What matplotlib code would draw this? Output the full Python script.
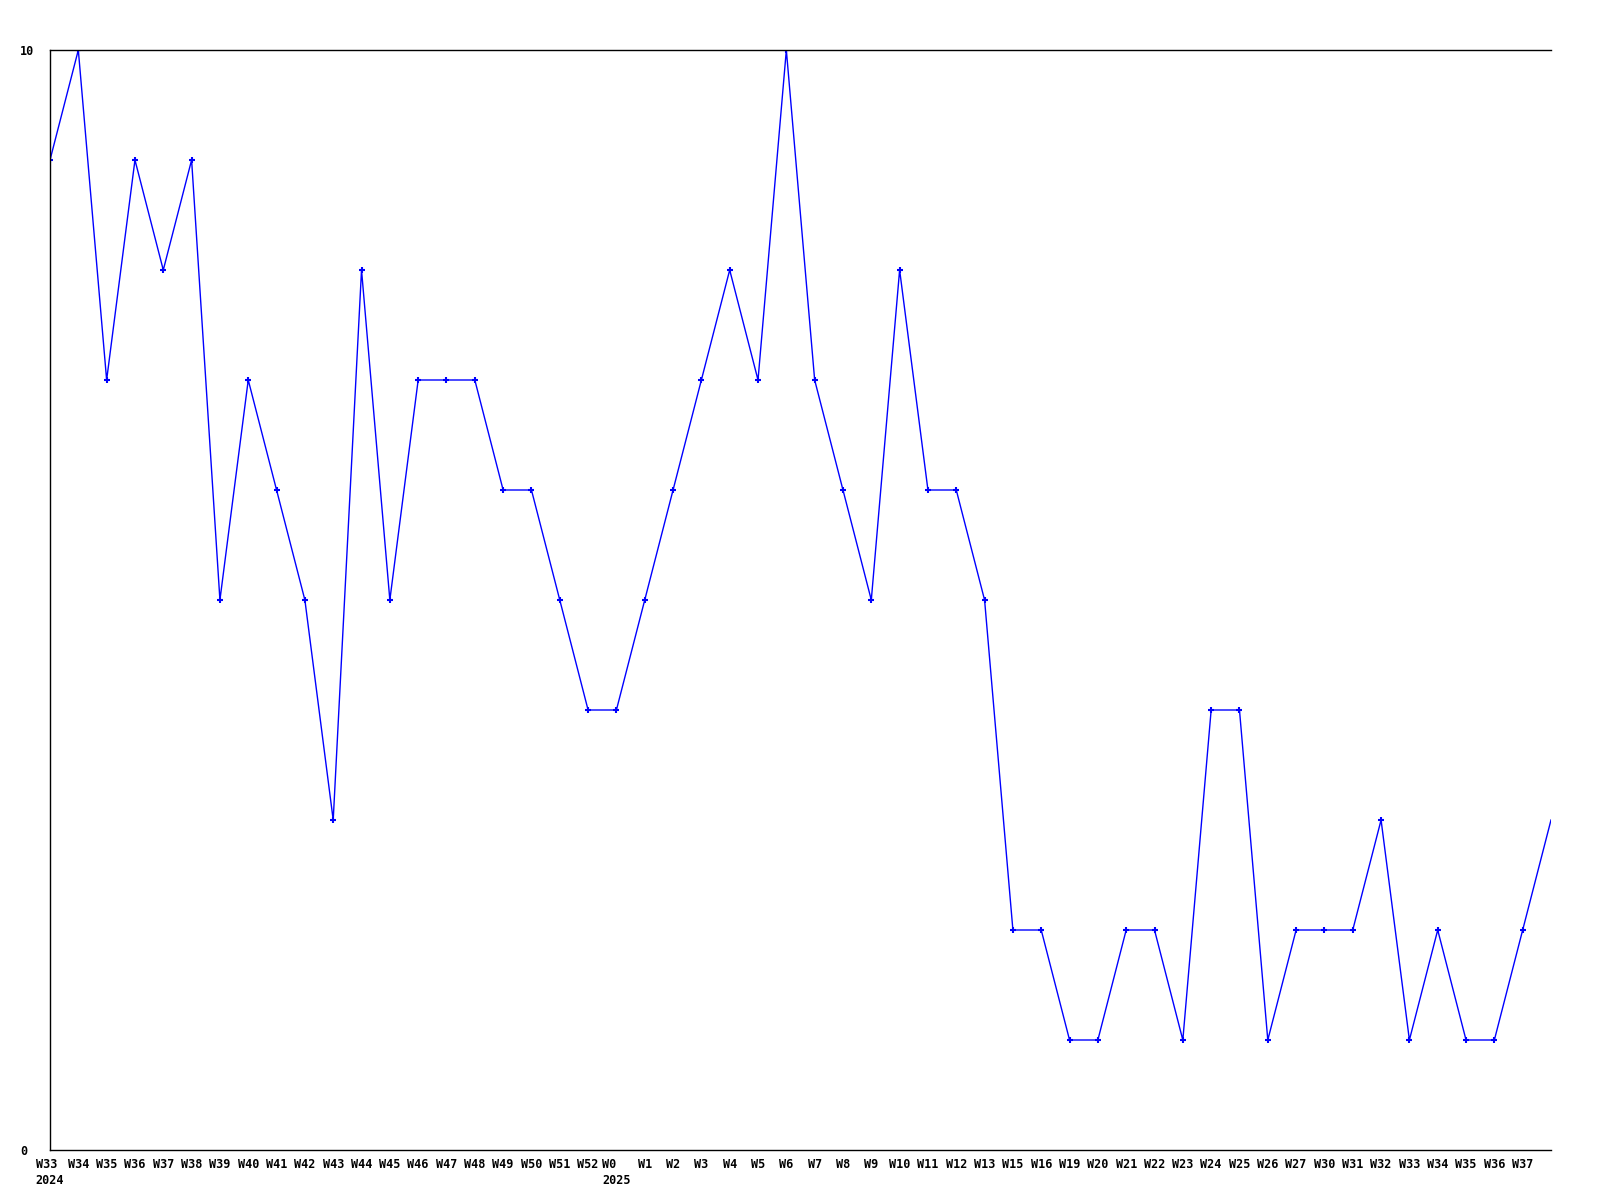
import matplotlib
matplotlib.use("Agg")
import matplotlib.pyplot as plt

weeks = ["W33", "W34", "W35", "W36", "W37", "W38", "W39", "W40", "W41", "W42",
         "W43", "W44", "W45", "W46", "W47", "W48", "W49", "W50", "W51", "W52",
         "W0", "W1", "W2", "W3", "W4", "W5", "W6", "W7", "W8", "W9",
         "W10", "W11", "W12", "W13", "W15", "W16", "W19", "W20", "W21", "W22",
         "W23", "W24", "W25", "W26", "W27", "W30", "W31", "W32", "W33", "W34",
         "W35", "W36", "W37"]
years = {0: "2024", 20: "2025"}
values = [9, 10, 7, 9, 8, 9, 5, 7, 6, 5,
          3, 8, 5, 7, 7, 7, 6, 6, 5, 4,
          4, 5, 6, 7, 8, 7, 10, 7, 6, 5,
          8, 6, 6, 5, 2, 2, 1, 1, 2, 2,
          1, 4, 4, 1, 2, 2, 2, 3, 1, 2,
          1, 1, 2]
last_value = 3  # line runs off the right edge

fig = plt.figure(figsize=(16, 12), dpi=100)
ax = fig.add_axes([50 / 1600, 50 / 1200, 1501 / 1600, 1100 / 1200])

xs = list(range(len(values) + 1))
ys = values + [last_value]
ax.plot(xs, ys, color="#0000ff", linewidth=1.0, marker="+", markersize=4.5,
        markeredgewidth=1.5, markevery=list(range(len(values))), clip_on=True)

ax.set_xlim(0, len(values))
ax.set_ylim(0, 10)

labels = []
for i, w in enumerate(weeks):
    if i in years:
        labels.append(w + "\n" + years[i])
    else:
        labels.append(w)
ax.set_xticks(range(len(weeks)))
ax.set_xticklabels(labels, fontfamily="DejaVu Sans Mono", fontweight="bold",
                   fontsize=8.5, multialignment="left", linespacing=1.25)
ax.set_yticks([0, 10])
ax.set_yticklabels(["0", "10"], fontfamily="DejaVu Sans Mono",
                   fontweight="bold", fontsize=8.5, ha="left")
ax.tick_params(axis="x", length=0, pad=6)
ax.tick_params(axis="y", length=0, pad=21.6)

ax.spines["right"].set_visible(False)
for s in ["left", "bottom", "top"]:
    ax.spines[s].set_linewidth(1.0)
    ax.spines[s].set_color("black")

fig.savefig("out.png", dpi=100)
